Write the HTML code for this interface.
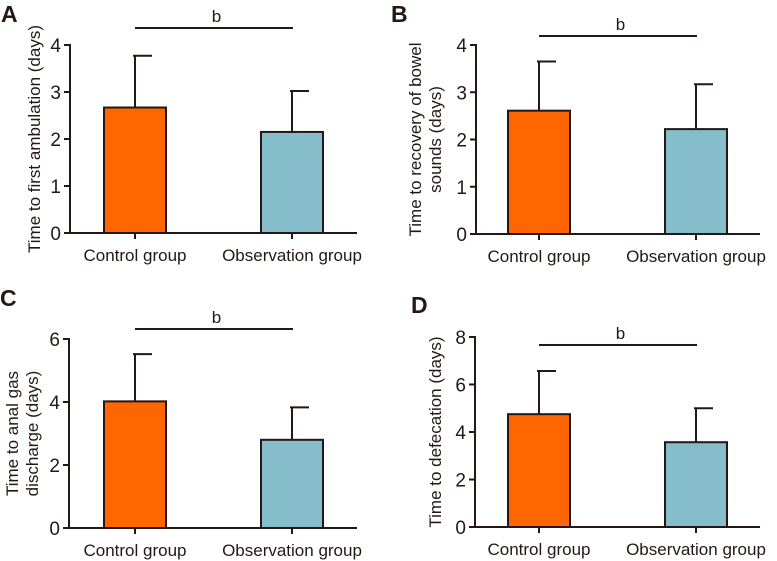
<!DOCTYPE html>
<html><head><meta charset="utf-8"><style>
html,body{margin:0;padding:0;background:#fff;}
svg{display:block;font-family:"Liberation Sans","DejaVu Sans",sans-serif;}
</style></head><body>
<svg id="fig" width="777" height="561" viewBox="0 0 777 561"></svg>
<script>
const categories = ["Control group", "Observation group"];
const meansA = [2.67, 2.15], errTopA = [3.77, 3.02], ticksA = [0, 1, 2, 3, 4];
const meansB = [2.61, 2.22], errTopB = [3.65, 3.17], ticksB = [0, 1, 2, 3, 4];
const meansC = [4.02, 2.80], errTopC = [5.52, 3.83], ticksC = [0, 2, 4, 6];
const meansD = [4.75, 3.57], errTopD = [6.57, 5.00], ticksD = [0, 2, 4, 6, 8];
const titlesA = ["Time to first ambulation (days)"];
const titlesB = ["Time to recovery of bowel", "sounds (days)"];
const titlesC = ["Time to anal gas", "discharge (days)"];
const titlesD = ["Time to defecation (days)"];
const colors = ["#ff6600", "#86bdca"];

const NS = "http://www.w3.org/2000/svg";
const svg = document.getElementById("fig");
function mk(tag, attrs, parent) {
  const e = document.createElementNS(NS, tag);
  for (const k in attrs) e.setAttribute(k, attrs[k]);
  (parent || svg).appendChild(e);
  return e;
}
function panel(cfg) {
  const g = mk("g", {});
  
  
  const maxV = cfg.ticks[cfg.ticks.length - 1];
  const y = v => cfg.y0 - (v / maxV) * (cfg.y0 - cfg.yTop);
  const xc = i => cfg.x0 + cfg.centers[i];
  const lbl = mk("text", {x: cfg.lx, y: cfg.ly, "font-size": 23, "font-weight": "bold", fill: "#231815"}, g);
  lbl.textContent = cfg.letter;
  
  
  cfg.means.forEach((m, i) => {
    const eb = mk("g", {}, g);
    
    
    mk("line", {x1: xc(i), x2: xc(i), y1: y(m), y2: y(cfg.err[i]), stroke: "#231815", "stroke-width": 2}, eb);
    mk("line", {x1: xc(i) - 2, x2: xc(i) + 17, y1: y(cfg.err[i]), y2: y(cfg.err[i]), stroke: "#231815", "stroke-width": 2}, eb);
    const r = mk("rect", {x: xc(i) - 31, y: y(m), width: 62, height: cfg.y0 - y(m), fill: colors[i], stroke: "#231815", "stroke-width": 2}, g);
    
    
    const t = mk("text", {x: xc(i), y: cfg.y0 + 28, "font-size": 17, "text-anchor": "middle", fill: "#231815"}, g);
    t.textContent = categories[i];
    
    
    mk("line", {x1: xc(i), x2: xc(i), y1: cfg.y0, y2: cfg.y0 + 6, stroke: "#231815", "stroke-width": 2}, g);
  });
  const ya = mk("line", {x1: cfg.x0, x2: cfg.x0, y1: cfg.yTop - 1, y2: cfg.y0 + 1, stroke: "#231815", "stroke-width": 2}, g);
  
  
  const xa = mk("line", {x1: cfg.x0 - 6, x2: cfg.xEnd, y1: cfg.y0, y2: cfg.y0, stroke: "#231815", "stroke-width": 2}, g);
  
  
  cfg.ticks.forEach(v => {
    mk("line", {x1: cfg.x0 - 6, x2: cfg.x0, y1: y(v), y2: y(v), stroke: "#231815", "stroke-width": 2}, g);
    const t = mk("text", {x: cfg.x0 - 9, y: y(v) + 7, "font-size": 19, "text-anchor": "end", fill: "#231815"}, g);
    t.textContent = v;
    
    
  });
  const midY = (cfg.y0 + cfg.yTop) / 2;
  cfg.titles.forEach((s, k) => {
    const tx = cfg.titleX + k * 20;
    const t = mk("text", {x: tx, y: midY, "font-size": 17, "text-anchor": "middle", fill: "#231815", transform: `rotate(-90 ${tx} ${midY})`}, g);
    t.textContent = s;
    
    
  });
  const sl = mk("line", {x1: xc(0), x2: xc(1) + 1, y1: cfg.sigY, y2: cfg.sigY, stroke: "#231815", "stroke-width": 2}, g);
  
  
  const st = mk("text", {x: (xc(0) + xc(1)) / 2 + 3, y: cfg.sigY - 6, "font-size": 17, "text-anchor": "middle", fill: "#231815"}, g);
  st.textContent = "b";
  
  
}
panel({letter: "A", lx: 1, ly: 22, x0: 70, xEnd: 357, y0: 233, yTop: 45, centers: [65, 222], means: meansA, err: errTopA, ticks: ticksA, titles: titlesA, titleX: 40, sigY: 28});
panel({letter: "B", lx: 391, ly: 22, x0: 476, xEnd: 760, y0: 234, yTop: 45, centers: [63, 220], means: meansB, err: errTopB, ticks: ticksB, titles: titlesB, titleX: 421, sigY: 36});
panel({letter: "C", lx: 0, ly: 306, x0: 69, xEnd: 357, y0: 528, yTop: 339, centers: [66, 223], means: meansC, err: errTopC, ticks: ticksC, titles: titlesC, titleX: 18, sigY: 329});
panel({letter: "D", lx: 411, ly: 313, x0: 475, xEnd: 760, y0: 527, yTop: 337, centers: [64, 221], means: meansD, err: errTopD, ticks: ticksD, titles: titlesD, titleX: 441, sigY: 345});
</script>
</body></html>
